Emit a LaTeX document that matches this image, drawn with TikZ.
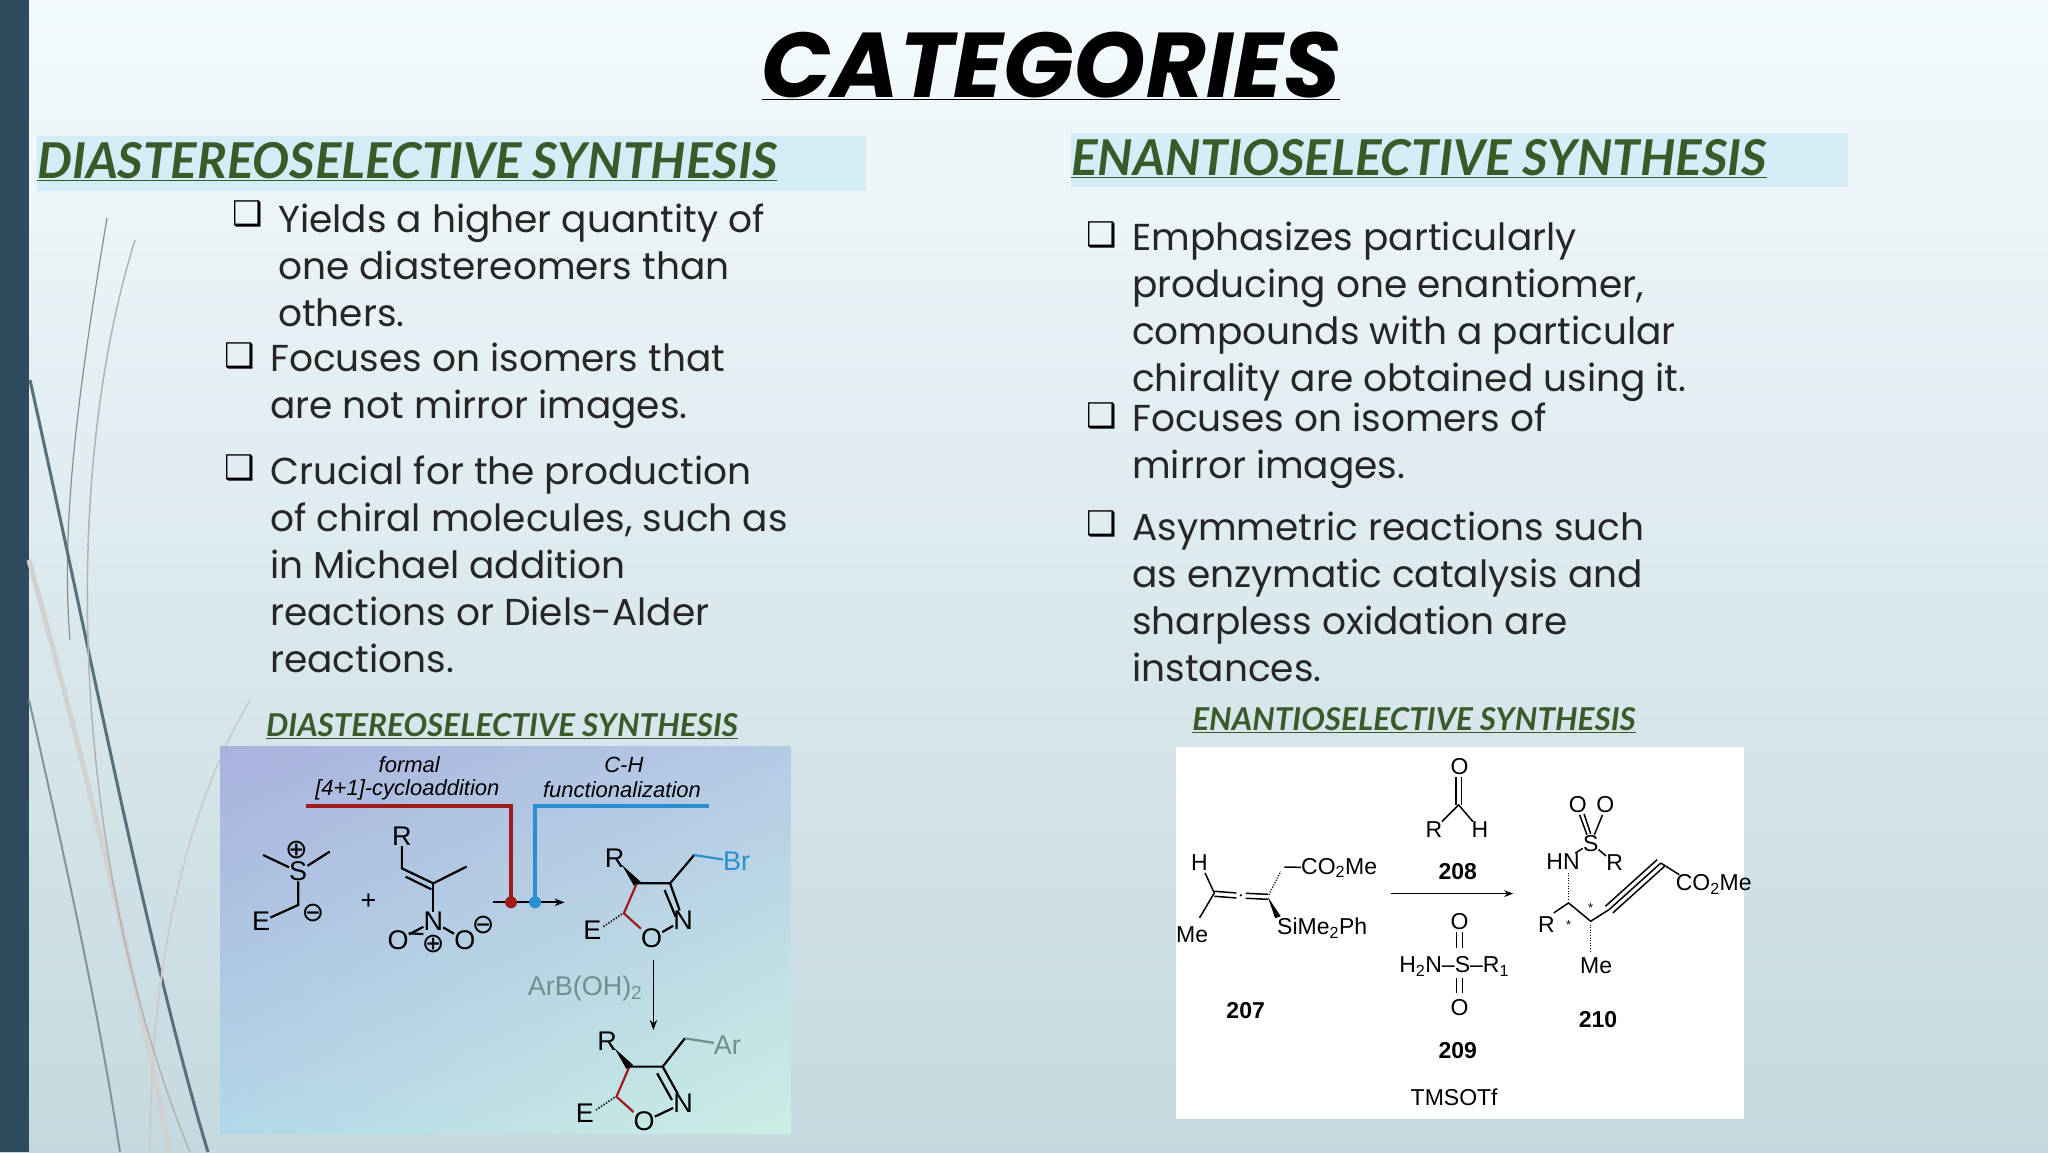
\documentclass[tikz,border=0pt]{standalone}
\usepackage{fontspec}
\setmainfont{Poppins}
\newfontfamily\hfont{Lato}
\newfontfamily\djv{DejaVu Sans}
\newfontfamily\chf{Liberation Sans}
\usetikzlibrary{arrows.meta,shadings}
\definecolor{hgreen}{HTML}{3B5A2A}
\definecolor{hbox}{HTML}{D4ECF6}
\definecolor{barc}{HTML}{2F4B5E}
\definecolor{cred}{HTML}{A01C1C}
\definecolor{cblue}{HTML}{2A8FD0}
\definecolor{cgrey}{HTML}{6E8F8C}
\definecolor{bgtop}{HTML}{F4FAFC}
\definecolor{bgbot}{HTML}{C4D9DF}
\definecolor{iul}{HTML}{A9B2DC}
\definecolor{iur}{HTML}{B4CBE6}
\definecolor{ill}{HTML}{B2D8E8}
\definecolor{ilr}{HTML}{CBEEE4}
\tikzset{
 body/.style={anchor=north west,align=left,inner sep=0pt,font=\fontsize{37.5}{47}\selectfont,text=black!85},
 bul/.style={anchor=base west,inner sep=0pt,font=\djv\fontsize{34}{34}\selectfont},
 head/.style={anchor=west,inner sep=0pt,font=\hfont\bfseries\itshape\fontsize{49.4}{50}\selectfont,text=hgreen},
 sub/.style={anchor=center,inner sep=0pt,font=\hfont\bfseries\itshape\fontsize{31.5}{31.5}\selectfont,text=hgreen},
 cl/.style={inner sep=0pt,font=\chf\fontsize{23}{23}\selectfont},
 cll/.style={inner sep=0pt,font=\chf\fontsize{27}{27}\selectfont},
 clb/.style={inner sep=0pt,font=\chf\bfseries\fontsize{23}{23}\selectfont},
 cli/.style={inner sep=0pt,font=\chf\itshape\fontsize{22}{22}\selectfont},
 bd/.style={line width=2.2pt},
 hash/.style={line width=1.8pt,dash pattern=on 1.2pt off 1.8pt},
}
\begin{document}
\begin{tikzpicture}[x=1pt,y=-1pt]
\useasboundingbox (0,0) rectangle (2048,1152);
\shade[top color=bgtop, bottom color=bgbot] (0,0) rectangle (2048,1152);
\fill[barc] (0,0) rectangle (29,1152);
% decorative curves
\draw[black!45,line width=1.2pt] (107,218) .. controls (80,380) and (60,520) .. (70,640);
\draw[barc!80,line width=3pt] (30,380) .. controls (90,650) and (150,960) .. (208,1152);
\draw[black!18,line width=5pt] (29,560) .. controls (90,780) and (140,1000) .. (170,1152);
\draw[barc!60,line width=2pt] (29,700) .. controls (70,880) and (100,1020) .. (120,1152);
\draw[black!20,line width=2pt] (250,700) .. controls (180,820) and (150,980) .. (150,1152);
\draw[black!30,line width=1.5pt] (135,240) .. controls (60,480) and (70,860) .. (190,1152);
% title
\node[inner sep=0pt,font=\bfseries\itshape\fontsize{92}{92}\selectfont] (title) at (1051,66) {\underline{CATEGORIES}};
\fill[hbox] (37,136) rectangle (866,191);
\fill[hbox] (1071,133) rectangle (1848,187);
\node[head] (hl) at (37,162) {\underline{DIASTEREOSELECTIVE SYNTHESIS}};
\node[head] (hr) at (1071,159) {\underline{ENANTIOSELECTIVE SYNTHESIS}};
% left bullets
\node[bul] (bl1) at (232,225) {❑};
\node[body] (tl1) at (278,204) {Yields a higher quantity of\\one diastereomers than\\others.};
\node[bul] (bl2) at (224,367) {❑};
\node[body] (tl2) at (270,343) {Focuses on isomers that\\are not mirror images.};
\node[bul] (bl3) at (224,479) {❑};
\node[body] (tl3) at (270,456) {Crucial for the production\\of chiral molecules, such as\\in Michael addition\\reactions or Diels-Alder\\reactions.};
% right bullets
\node[bul] (br1) at (1086,246) {❑};
\node[body] (tr1) at (1132,222) {Emphasizes particularly\\producing one enantiomer,\\compounds with a particular\\chirality are obtained using it.};
\node[bul] (br2) at (1086,427) {❑};
\node[body] (tr2) at (1132,403) {Focuses on isomers of\\mirror images.};
\node[bul] (br3) at (1086,535) {❑};
\node[body] (tr3) at (1132,512) {Asymmetric reactions such\\as enzymatic catalysis and\\sharpless oxidation are\\instances.};
\node[sub] (sl) at (502,726) {\underline{DIASTEREOSELECTIVE SYNTHESIS}};
\node[sub] (sr) at (1414,720) {\underline{ENANTIOSELECTIVE SYNTHESIS}};
% ---------- left image ----------
\begin{scope}[shift={(215,740)},x=0.37pt,y=-0.3333pt]
\shade[upper left=iul, upper right=iur, lower left=ill, lower right=ilr] (15,20) rectangle (1555,1180);
\node[cli] (f1) at (525,75) {formal};
\node[cli] (f2) at (520,150) {[4+1]-cycloaddition};
\node[cli] (f3) at (1105,75) {C-H};
\node[cli] (f4) at (1100,150) {functionalization};
\coordinate (rd) at (800,487);
\coordinate (bd) at (865,487);
\coordinate (a0) at (750,487);
\coordinate (a1) at (945,487);
\draw[-{Stealth[length=10pt]},line width=1.8pt] (a0) -- (a1);
\draw[cred,line width=3.5pt] (245,198) -| (rd);
\draw[cblue,line width=3.5pt] (1335,198) -| (bd);
\fill[cred] (rd) circle (6pt);
\fill[cblue] (bd) circle (6pt);
% sulfonium ylide
\node[cll] (S) at (225,395) {S};
\node[cll] (Sp) at (220,330) {\djv ⊕};
\node[cll] (E1) at (125,545) {E};
\node[cll] (Em) at (265,520) {\djv ⊖};
\draw[bd] (130,345) -- (S); \draw[bd] (310,335) -- (S);
\draw[bd] (S) -- (225,495) -- (E1);
\node[cll] (plus) at (415,485) {+};
% nitroalkene
\node[cll] (R1) at (505,290) {R};
\node[cll] (N1) at (590,545) {N};
\node[cll] (O1) at (495,600) {O};
\node[cll] (O2) at (675,600) {O};
\node[cll] (Np) at (590,612) {\djv ⊕};
\node[cll] (Om) at (725,555) {\djv ⊖};
\draw[bd] (R1) -- (505,385) -- (590,430) -- (680,380);
\draw[bd] (515,410) -- (585,448);
\draw[bd] (590,430) -- (N1);
\draw[bd] (N1) -- (O1); \draw[bd] ([yshift=-3pt]N1.south west) -- ([yshift=-3pt]O1.north east);
\draw[bd] (N1) -- (O2);
% product 1
\node[cll] (R2) at (1080,355) {R};
\node[cll] (N2) at (1265,540) {N};
\node[cll] (O3) at (1180,595) {O};
\node[cll] (E2) at (1020,570) {E};
\node[cll,text=cblue] (Br) at (1410,365) {Br};
\draw[bd,cred] (1140,430) -- (1105,520) -- (O3);
\draw[bd] (1140,430) -- (1230,430) -- (N2) -- (O3);
\draw[bd] (1215,450) -- (1245,530);
\draw[bd] (1230,430) -- (1295,345);
\draw[bd,cblue] (1295,345) -- (Br);
\fill (1100,375) -- (1150,425) -- (1132,437) -- cycle;
\draw[hash] (1050,560) -- (1100,522);
\draw[-{Stealth[length=10pt]},line width=1.8pt] (1185,660) -- (1185,870);
\node[cll,text=cgrey] (ArB) at (1000,745) {ArB(OH)\textsubscript{2}};
\begin{scope}[shift={(0,550)}]
\node[cll] (R3) at (1060,355) {R};
\node[cll] (N3) at (1265,540) {N};
\node[cll] (O4) at (1160,595) {O};
\node[cll] (E3) at (1000,570) {E};
\node[cll,text=cgrey] (Ar) at (1385,365) {Ar};
\draw[bd,cred] (1120,430) -- (1085,520) -- (O4);
\draw[bd] (1120,430) -- (1210,430) -- (N3) -- (O4);
\draw[bd] (1195,450) -- (1235,530);
\draw[bd] (1210,430) -- (1270,345);
\draw[bd,cgrey] (1270,345) -- (Ar);
\fill (1080,375) -- (1130,425) -- (1112,437) -- cycle;
\draw[hash] (1030,560) -- (1080,522);
\end{scope}
\end{scope}
% ---------- right image ----------
\begin{scope}[shift={(1170,740)},x=0.369pt,y=-0.3325pt]
\fill[white] (15,20) rectangle (1555,1140);
\tikzset{bd/.style={line width=1.5pt},hash/.style={line width=1.4pt,dash pattern=on 1pt off 1.6pt}}
\node[cl] (H7) at (80,370) {H};
\node[cl] (Me7) at (60,585) {Me};
\node[cl,anchor=west] (CO7) at (355,385) {CO\textsubscript{2}Me};
\node[cl,anchor=west] (Si7) at (290,565) {SiMe\textsubscript{2}Ph};
\node[clb] (n207) at (205,815) {207};
\draw[bd] (95,400) -- (120,460) -- (80,535);
\draw[bd] (120,455) -- (180,460); \draw[bd] (120,470) -- (180,475);
\fill (192,467) circle (1.3pt);
\draw[bd] (205,461) -- (265,464); \draw[bd] (205,476) -- (265,479);
\draw[hash] (268,465) -- (300,395);
\draw[bd] (310,382) -- (CO7);
\fill (265,472) -- (300,530) -- (285,536) -- cycle;
\draw[-{Stealth[length=9pt]},line width=1.4pt] (600,462) -- (930,462);
\node[cl] (O8) at (785,80) {O};
\node[cl] (R8) at (715,270) {R};
\node[cl] (H8) at (840,270) {H};
\draw[bd] (775,110) -- (775,195); \draw[bd] (790,110) -- (790,195);
\draw[bd] (R8) -- (782,195) -- (H8);
\node[clb] (n208) at (780,395) {208};
\node[cl] (O9a) at (785,545) {O};
\node[cl] (S9) at (770,680) {H\textsubscript{2}N–S–R\textsubscript{1}};
\node[cl] (O9b) at (785,805) {O};
\draw[bd] (777,578) -- (777,625); \draw[bd] (793,578) -- (793,625);
\draw[bd] (777,715) -- (777,762); \draw[bd] (793,715) -- (793,762);
\node[clb] (n209) at (780,935) {209};
\node[cl] (tms) at (770,1075) {TMSOTf};
\node[cl] (Oa) at (1105,195) {O};
\node[cl] (Ob) at (1180,195) {O};
\node[cl] (S10) at (1140,310) {S};
\node[cl] (HN) at (1065,365) {HN};
\node[cl] (R10) at (1205,370) {R};
\node[cl] (R10b) at (1020,555) {R};
\node[cl] (Me10) at (1155,680) {Me};
\node[cl,anchor=west] (CO10) at (1370,435) {CO\textsubscript{2}Me};
\node[cl,font=\chf\fontsize{13}{13}\selectfont] (st1) at (1080,557) {*};
\node[cl,font=\chf\fontsize{13}{13}\selectfont] (st2) at (1140,505) {*};
\node[clb] (n210) at (1160,840) {210};
\draw[bd] (1110,225) -- (1130,285); \draw[bd] (1122,222) -- (1140,282);
\draw[bd] (1172,225) -- (1150,285);
\draw[bd] (HN) -- (S10) -- (R10);
\draw[hash] (1080,480) -- (1080,400);
\draw[bd] (1040,520) -- (1080,490) -- (1140,545) -- (1190,510);
\draw[bd] (1190,510) -- (1330,370);
\draw[bd] (1180,500) -- (1320,360); \draw[bd] (1200,520) -- (1340,380);
\draw[bd] (1330,370) -- (1380,405);
\draw[hash] (1140,555) -- (1140,635);
\end{scope}
\end{tikzpicture}
\end{document}
